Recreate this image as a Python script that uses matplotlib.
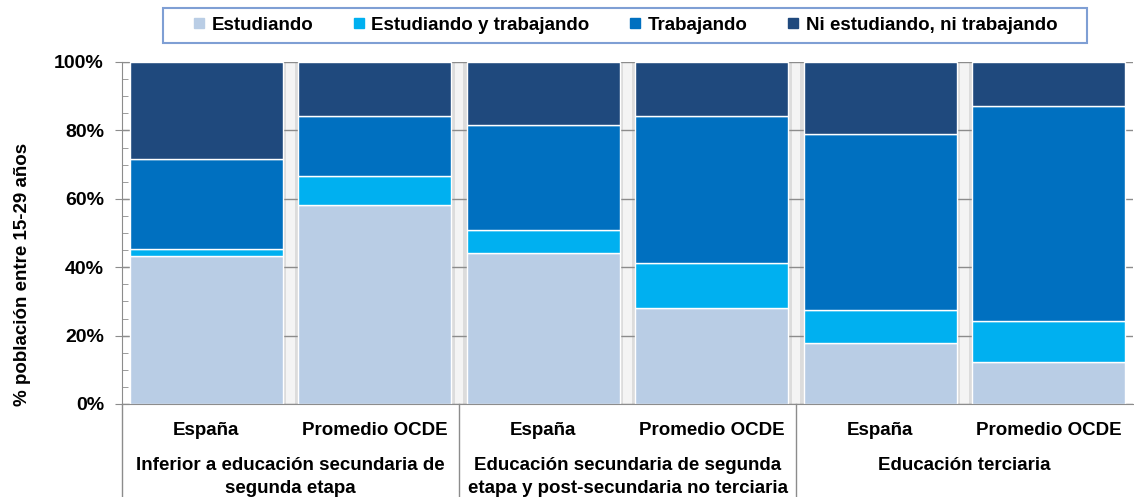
import numpy as np
import matplotlib.pyplot as plt
from matplotlib.lines import Line2D
from matplotlib.patches import Rectangle

plt.rcParams['font.family'] = ['Liberation Sans', 'DejaVu Sans']

# data (% of population aged 15-29)
bar_labels = ['España', 'Promedio OCDE', 'España', 'Promedio OCDE', 'España', 'Promedio OCDE']
groups = ['Inferior a educación secundaria de\nsegunda etapa',
          'Educación secundaria de segunda\netapa y post-secundaria no terciaria',
          'Educación terciaria']
series = ['Estudiando', 'Estudiando y trabajando', 'Trabajando', 'Ni estudiando, ni trabajando']
estudiando = [43.3, 58.2, 44.2, 28.1, 17.8, 12.3]
estudiando_trabajando = [2.0, 8.5, 6.7, 13.1, 9.7, 12.0]
trabajando = [26.3, 17.5, 30.7, 43.0, 51.4, 62.8]
ni_ni = [28.4, 15.8, 18.4, 15.8, 21.1, 12.9]
colors = ['#b9cde5', '#00b0f0', '#0070c0', '#1f497d']

fs = 13.5

fig = plt.figure(figsize=(11.34, 4.97), dpi=100)
ax = fig.add_axes([122 / 1134, 93 / 497, 1011 / 1134, 342 / 497])

x = np.arange(len(bar_labels))
width = 0.91
bottom = np.zeros(len(x))
for vals, col in zip([estudiando, estudiando_trabajando, trabajando, ni_ni], colors):
    ax.bar(x, vals, width, bottom=bottom, color=col, edgecolor='white', linewidth=1, zorder=2)
    bottom += np.array(vals)

# shaded gaps between bars
for k in x[:-1]:
    ax.axvspan(k + width / 2, k + 1 - width / 2, color='#dcdcdc', lw=0, zorder=0.1)
    ax.axvspan(k + 0.475, k + 0.525, color='#f4f4f4', lw=0, zorder=0.2)

ax.set_xlim(-0.5, len(x) - 0.5)
ax.set_ylim(0, 100)
ax.set_axisbelow(True)
ax.yaxis.grid(True, color='#8c8c8c', linewidth=1)
ax.set_yticks(np.arange(0, 101, 20))
ax.set_yticks(np.arange(0, 101, 5), minor=True)
ax.set_yticklabels([f'{v}%' for v in range(0, 101, 20)], fontsize=14, fontweight='bold')
ax.tick_params(axis='y', which='major', direction='inout', length=10, color='#8c8c8c', pad=8)
ax.tick_params(axis='y', which='minor', direction='in', length=4, color='#8c8c8c')

ax.set_xticks(x)
ax.set_xticklabels(bar_labels, fontsize=fs, fontweight='bold')
ax.tick_params(axis='x', direction='in', length=4, color='#8c8c8c', pad=13)

for s in ['top', 'right']:
    ax.spines[s].set_visible(False)
for s in ['left', 'bottom']:
    ax.spines[s].set_color('#8c8c8c')

# group separators and labels
trans = ax.get_xaxis_transform()
for xs in [-0.5, 1.5, 3.5]:
    ax.add_line(Line2D([xs, xs], [0, -0.28], transform=trans, color='#8c8c8c', lw=1, clip_on=False))
for i, g in enumerate(groups):
    ax.text(2 * i + 0.5, -0.156, g, transform=trans, ha='center', va='top',
            fontsize=fs, fontweight='bold', linespacing=1.42)

ax.set_ylabel('% población entre 15-29 años', fontsize=fs, fontweight='bold')
ax.yaxis.set_label_coords(-0.09, 0.38)

# legend
handles = [Line2D([], [], marker='s', linestyle='none', markersize=7, color=c) for c in colors]
fig.legend(handles, series, loc='center', bbox_to_anchor=(0.551, 0.949), ncol=4, frameon=False,
           prop={'size': fs, 'weight': 'bold'}, handlelength=0.7, handletextpad=0.3, columnspacing=2.1)
fig.add_artist(Rectangle((163 / 1134, 1 - 43 / 497), (1087 - 163) / 1134, 35 / 497,
                         transform=fig.transFigure, fill=False, edgecolor='#7f9fd4', linewidth=1.5))

fig.savefig('out.png', dpi=100)
